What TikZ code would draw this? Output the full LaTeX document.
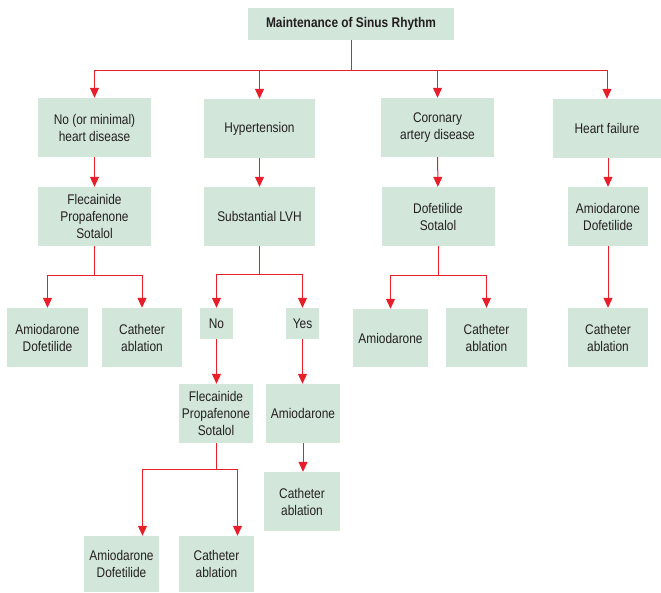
\documentclass[tikz,border=0pt]{standalone}
\usepackage{fontspec}
\setmainfont[FakeStretch=0.85]{Liberation Sans}
\usepackage{tikz}
\usetikzlibrary{arrows.meta}
\definecolor{boxgreen}{RGB}{210,231,218}
\definecolor{linered}{RGB}{232,30,42}
\definecolor{textgrey}{RGB}{35,31,32}
\tikzset{
	box/.style={fill=boxgreen, text=textgrey, align=center, inner sep=0pt,
		font=\fontsize{14}{17}\selectfont},
	link/.style={draw=linered, line width=1pt, -{Triangle[width=9pt,length=10pt]}}
}
\begin{document}
\begin{tikzpicture}[x=1pt, y=-1pt]
	  \useasboundingbox (0,0) rectangle (661,592);
	  \node [box, minimum width=206, minimum height=32, font=\fontsize{14}{17}\selectfont\bfseries] (title) at (351,24) {Maintenance of Sinus Rhythm};
	  % First row
	  \node [box, minimum width=113, minimum height=59] (nohd) at (94.5,127.5) {No (or minimal)\\heart disease};
	  \node [box, minimum width=111, minimum height=59] (htn) at (259.5,128.5) {Hypertension};
	  \node [box, minimum width=113, minimum height=59] (cad) at (437.5,127.5) {Coronary\\artery disease};
	  \node [box, minimum width=108, minimum height=59] (hf) at (607,128.5) {Heart failure};
	  % Second row
	  \node [box, minimum width=113, minimum height=59] (fps1) at (94.5,216.5) {Flecainide\\Propafenone\\Sotalol};
	  \node [box, minimum width=111, minimum height=59] (lvh) at (259.5,216.5) {Substantial LVH};
	  \node [box, minimum width=113, minimum height=59] (dofsot) at (438,216.5) {Dofetilide\\Sotalol};
	  \node [box, minimum width=80, minimum height=59] (amidof1) at (608,216.5) {Amiodarone\\Dofetilide};
	  % Third row
	  \node [box, minimum width=81, minimum height=59] (amidof2) at (47.5,337.5) {Amiodarone\\Dofetilide};
	  \node [box, minimum width=80, minimum height=59] (cath1) at (142,337.5) {Catheter\\ablation};
	  \node [box, minimum width=33, minimum height=31] (no) at (216.5,323.5) {No};
	  \node [box, minimum width=33, minimum height=31] (yes) at (302.5,323.5) {Yes};
	  \node [box, minimum width=75, minimum height=58] (amio1) at (390.5,338) {Amiodarone};
	  \node [box, minimum width=81, minimum height=59] (cath2) at (486.5,337.5) {Catheter\\ablation};
	  \node [box, minimum width=80, minimum height=59] (cath3) at (608,337.5) {Catheter\\ablation};
	  % Lower rows
	  \node [box, minimum width=74, minimum height=59] (fps2) at (216,413.5) {Flecainide\\Propafenone\\Sotalol};
	  \node [box, minimum width=74, minimum height=59] (amio2) at (303,413.5) {Amiodarone};
	  \node [box, minimum width=76, minimum height=59] (cath4) at (302,501.5) {Catheter\\ablation};
	  \node [box, minimum width=75, minimum height=56] (amidof3) at (121.5,564) {Amiodarone\\Dofetilide};
	  \node [box, minimum width=75, minimum height=56] (cath5) at (216.5,564) {Catheter\\ablation};
	  % Connectors
	  \coordinate (bus) at (351,70);
	  \foreach \c in {nohd,htn,cad,hf}
	    \draw [link] (title.south) -- (bus) -| (\c.north);
	  \draw [link] (nohd) -- (fps1);
	  \draw [link] (htn) -- (lvh);
	  \draw [link] (cad) -- (dofsot);
	  \draw [link] (hf.south -| amidof1.north) -- (amidof1.north);
	  \draw [link] (fps1.south) -- ++(0,29) -| (amidof2.north);
	  \draw [link] (fps1.south) -- ++(0,29) -| (cath1.north);
	  \draw [link] (lvh.south) -- ++(0,28) -| (no.north);
	  \draw [link] (lvh.south) -- ++(0,28) -| (yes.north);
	  \draw [link] (dofsot.south) -- ++(0,29) -| (amio1.north);
	  \draw [link] (dofsot.south) -- ++(0,29) -| (cath2.north);
	  \draw [link] (amidof1) -- (cath3);
	  \draw [link] (no) -- (no |- fps2.north);
	  \draw [link] (yes) -- (yes |- amio2.north);
	  \draw [link] (amio2) -- (amio2 |- cath4.north);
	  \draw [link] (fps2.south) -- ++(0,26) -| ([xshift=21]amidof3.north);
	  \draw [link] (fps2.south) -- ++(0,26) -| ([xshift=21]cath5.north);
	 \end{tikzpicture}
\end{document}
